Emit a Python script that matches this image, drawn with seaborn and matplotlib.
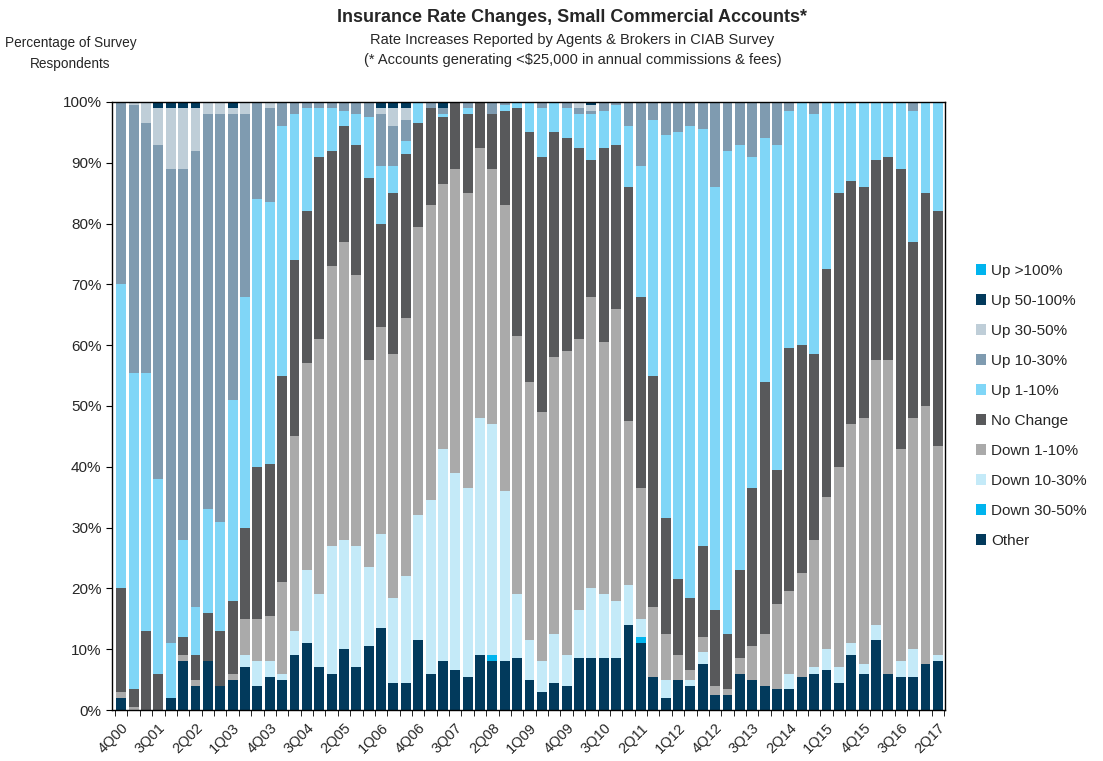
import seaborn as sns
import matplotlib.pyplot as plt
import pandas as pd
import numpy as np

# quarters 4Q00 .. 2Q17
quarters = [f"{q}Q{y % 100:02d}" for y in range(2000, 2018) for q in range(1, 5)][3:-2]

other = [2, 0, 0, 0, 2, 8, 4, 8, 4, 5,
         7, 4, 5.5, 5, 9, 11, 7, 6, 10, 7,
         10.5, 13.5, 4.5, 4.5, 11.5, 6, 8, 6.5, 5.5, 9,
         8, 8, 8.5, 5, 3, 4.5, 4, 8.5, 8.5, 8.5,
         8.5, 14, 11, 5.5, 2, 5, 4, 7.5, 2.5, 2.5,
         6, 5, 4, 3.5, 3.5, 5.5, 6, 6.5, 4.5, 9,
         6, 11.5, 6, 5.5, 5.5, 7.5, 8]
down_30_50 = [0, 0, 0, 0, 0, 0, 0, 0, 0, 0,
              0, 0, 0, 0, 0, 0, 0, 0, 0, 0,
              0, 0, 0, 0, 0, 0, 0, 0, 0, 0,
              1, 0, 0, 0, 0, 0, 0, 0, 0, 0,
              0, 0, 1, 0, 0, 0, 0, 0, 0, 0,
              0, 0, 0, 0, 0, 0, 0, 0, 0, 0,
              0, 0, 0, 0, 0, 0, 0]
down_10_30 = [0, 0, 0, 0, 0, 0, 0, 0, 0, 0,
              2, 4, 2.5, 1, 4, 12, 12, 21, 18, 20,
              13, 15.5, 14, 17.5, 20.5, 28.5, 35, 32.5, 31, 39,
              38, 28, 10.5, 6.5, 5, 8, 5, 8, 11.5, 10.5,
              9.5, 6.5, 3, 0, 3, 0, 1, 2, 0, 0,
              0, 0, 0, 0, 2.5, 0, 1, 3.5, 2.5, 2,
              1.5, 2.5, 0, 2.5, 4.5, 0, 1]
down_1_10 = [1, 0.5, 0, 0, 0, 1, 1, 0, 0, 1,
             6, 7, 7.5, 15, 32, 34, 42, 46, 49, 44.5,
             34, 34, 40, 42.5, 47.5, 48.5, 43.5, 50, 48.5, 44.5,
             42, 47, 42.5, 42.5, 41, 45.5, 50, 44.5, 48, 41.5,
             48, 27, 21.5, 11.5, 7.5, 4, 1.5, 2.5, 1.5, 1,
             2.5, 5.5, 8.5, 14, 13.5, 17, 21, 25, 33, 36,
             40.5, 43.5, 51.5, 35, 38, 42.5, 34.5]
no_change = [17, 3, 13, 6, 0, 3, 4, 8, 9, 12,
             15, 25, 25, 34, 29, 25, 30, 19, 19, 21.5,
             30, 17, 26.5, 27, 17, 16, 11, 11, 13, 7.5,
             9, 15.5, 37.5, 41, 42, 37, 35, 31.5, 22.5, 32,
             27, 38.5, 31.5, 38, 19, 12.5, 12, 15, 12.5, 9,
             14.5, 26, 41.5, 22, 40, 37.5, 30.5, 37.5, 45, 40,
             38, 33, 33.5, 46, 29, 35, 38.5]
up_1_10 = [50, 52, 42.5, 32, 9, 16, 8, 17, 18, 33,
           38, 44, 43, 41, 24, 17, 8, 7, 2.5, 5,
           10, 9.5, 4.5, 2, 3.5, 0, 0.5, 0, 1, 0,
           0, 1, 1, 5, 8, 5, 5, 5.5, 7.5, 6,
           6.5, 10, 21.5, 42, 63, 73.5, 77.5, 68.5, 69.5, 79.5,
           70, 54.5, 40, 53.5, 39, 40, 39.5, 27.5, 15, 13,
           14, 9.5, 9, 11, 21.5, 15, 18]
up_10_30 = [30, 44, 41, 55, 78, 61, 75, 65, 67, 47,
            30, 16, 15.5, 4, 2, 1, 1, 1, 1.5, 2,
            2.5, 8.5, 6.5, 3.5, 0, 1, 1, 0, 1, 0,
            2, 0.5, 0, 0, 1, 0, 1, 1, 0.5, 1.5,
            0.5, 4, 10.5, 3, 5.5, 5, 4, 4.5, 14, 8,
            7, 9, 6, 7, 1.5, 0, 2, 0, 0, 0,
            0, 0, 0, 0, 1.5, 0, 0]
up_30_50 = [0, 0.5, 3.5, 6, 10, 10, 7, 2, 2, 1,
            2, 0, 1, 0, 0, 0, 0, 0, 0, 0,
            0, 1, 3, 2, 0, 0, 0, 0, 0, 0,
            0, 0, 0, 0, 0, 0, 0, 1, 1, 0,
            0, 0, 0, 0, 0, 0, 0, 0, 0, 0,
            0, 0, 0, 0, 0, 0, 0, 0, 0, 0,
            0, 0, 0, 0, 0, 0, 0]
up_50_100 = [0, 0, 0, 1, 1, 1, 1, 0, 0, 1,
             0, 0, 0, 0, 0, 0, 0, 0, 0, 0,
             0, 1, 1, 1, 0, 0, 1, 0, 0, 0,
             0, 0, 0, 0, 0, 0, 0, 0, 0.5, 0,
             0, 0, 0, 0, 0, 0, 0, 0, 0, 0,
             0, 0, 0, 0, 0, 0, 0, 0, 0, 0,
             0, 0, 0, 0, 0, 0, 0]
up_100_plus = [0] * 67

# legend order (top of stack first)
categories = ["Up >100%", "Up 50-100%", "Up 30-50%", "Up 10-30%", "Up 1-10%",
              "No Change", "Down 1-10%", "Down 10-30%", "Down 30-50%", "Other"]
values = [up_100_plus, up_50_100, up_30_50, up_10_30, up_1_10,
          no_change, down_1_10, down_10_30, down_30_50, other]
colors = ["#00B4EE", "#023A5C", "#BFCED8", "#7F9BB0", "#80D6F7",
          "#58595B", "#AAAAAA", "#C4EAF8", "#00B4EE", "#023A5C"]

rows = []
for cat, vals in zip(categories, values):
    for i, v in enumerate(vals):
        rows.append((i, cat, v))
df = pd.DataFrame(rows, columns=["idx", "category", "pct"])

sns.set_style("ticks")
plt.rcParams['font.family'] = ['Liberation Sans', 'DejaVu Sans']

fig = plt.figure(figsize=(11.03, 7.61), dpi=100)
ax = fig.add_axes([0.1015, 0.067, 0.7555, 0.799])

sns.histplot(data=df, x="idx", weights="pct", hue="category", hue_order=categories,
             palette=dict(zip(categories, colors)), multiple="stack", discrete=True,
             shrink=0.8, alpha=1, linewidth=0, ax=ax)

ax.set_xlim(-0.75, 66.6)
ax.set_ylim(0, 100)
ax.set_yticks(np.arange(0, 101, 10))
ax.set_yticklabels([f"{v}%" for v in range(0, 101, 10)], fontsize=11)
ax.set_xticks(np.arange(0, 67, 3))
ax.set_xticklabels(quarters[::3], rotation=45, ha="right", rotation_mode="anchor", fontsize=10.5)
ax.set_xticks(np.arange(-0.5, 67, 1), minor=True)
ax.tick_params(axis="x", which="major", length=0, pad=8)
ax.tick_params(axis="x", which="minor", length=4, direction="out", color="black")
ax.tick_params(axis="y", length=4, direction="out", color="black")
ax.set_xlabel("")
ax.set_ylabel("")
for s in ax.spines.values():
    s.set_color("black")
    s.set_linewidth(1)

sns.move_legend(ax, "center left", bbox_to_anchor=(1.02, 0.5), frameon=False, title=None,
                handlelength=0.7, handleheight=0.7, labelspacing=1.05, fontsize=11,
                handletextpad=0.3)

fig.text(0.519, 0.977, "Insurance Rate Changes, Small Commercial Accounts*", ha="center", va="center",
         fontsize=13, fontweight="bold")
fig.text(0.519, 0.948, "Rate Increases Reported by Agents & Brokers in CIAB Survey", ha="center",
         va="center", fontsize=10.5)
fig.text(0.519, 0.921, "(* Accounts generating <$25,000 in annual commissions & fees)", ha="center",
         va="center", fontsize=10.5)
fig.text(0.064, 0.93, "Percentage of Survey\nRespondents", ha="center", va="center",
         fontsize=9.8, linespacing=1.6)

fig.savefig("out.png", dpi=100)
